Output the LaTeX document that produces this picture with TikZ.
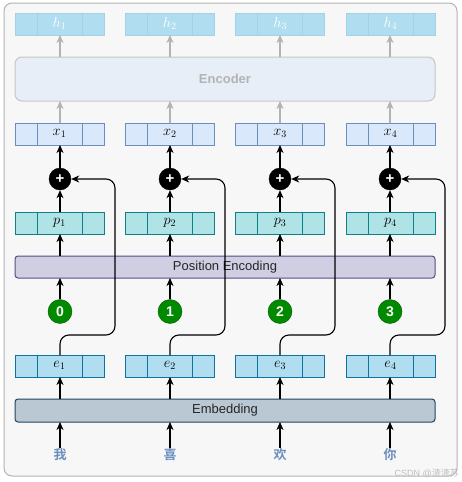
\documentclass[tikz,border=0pt]{standalone}
\usepackage{fontspec}
\setmainfont{Liberation Sans}
\newfontfamily\cjk{Noto Sans CJK SC}[BoldFont={Noto Sans CJK SC Bold}]
\usetikzlibrary{arrows.meta,calc}
\definecolor{bgc}{HTML}{F7F7F7}
\definecolor{bgb}{HTML}{B3B3B3}
\definecolor{xf}{HTML}{DAE8FC}
\definecolor{xd}{HTML}{6C8EBF}
\definecolor{pf}{HTML}{B0E3E6}
\definecolor{pd}{HTML}{0E8088}
\definecolor{ef}{HTML}{B1DDF0}
\definecolor{ed}{HTML}{10739E}
\definecolor{hd}{HTML}{A2D2E8}
\definecolor{encf}{HTML}{E8EEF7}
\definecolor{encd}{HTML}{C6C6C6}
\definecolor{pef}{HTML}{D0CEE2}
\definecolor{ped}{HTML}{56517E}
\definecolor{embf}{HTML}{BAC8D3}
\definecolor{embd}{HTML}{23445D}
\definecolor{gf}{HTML}{008A00}
\definecolor{gd}{HTML}{005700}
\definecolor{grayarrow}{HTML}{B3B3B3}
\definecolor{chc}{HTML}{6C8EBF}
\tikzset{
  vecbox/.style={draw, line width=1pt, minimum width=89pt, minimum height=22pt, inner sep=0pt},
  bar/.style={draw, line width=1pt, rounded corners=3pt, minimum width=420pt, inner sep=0pt, font=\fontsize{13}{15}\selectfont},
  arr/.style={-{Stealth[length=8pt,width=7pt,inset=2.5pt]}, line width=1.1pt, black},
  garr/.style={-{Stealth[length=8pt,width=7pt,inset=2.5pt]}, line width=1.1pt, grayarrow},
  plusc/.style={circle, fill=black, draw=black, minimum size=22pt, inner sep=0pt, text=white, font=\bfseries\fontsize{15}{15}\selectfont},
  numc/.style={circle, fill=gf, draw=gd, minimum size=24pt, inner sep=0pt, text=white, font=\bfseries\fontsize{14}{15}\selectfont},
  chr/.style={text=chc, font=\cjk\bfseries\fontsize{13}{15}\selectfont, inner sep=1pt},
}
\newcommand{\cellvec}[6]{%
  \node[vecbox, fill=#4, draw=#5] (#1) at (#2,#3) {};
  \draw[#5, line width=1pt] ($(#1.north)+(-22.5,0)$) -- ($(#1.south)+(-22.5,0)$)
                              ($(#1.north)+(22.5,0)$) -- ($(#1.south)+(22.5,0)$);
  \node[font=\fontsize{14}{15}\selectfont] at ($(#1.center)+(0,-0.5)$) {#6};
}
\begin{document}
\begin{tikzpicture}[x=1pt,y=-1pt]
\useasboundingbox (0,0) rectangle (462,482);
\draw[rounded corners=8pt, fill=bgc, draw=bgb, line width=1pt] (4,3) rectangle (457,476);

\node[bar, fill=encf, draw=encd, minimum height=44pt, rounded corners=7pt, text=grayarrow, font=\bfseries\fontsize{13}{15}\selectfont] (enc) at (225,79) {Encoder};
\node[bar, fill=pef, draw=ped, minimum height=22pt, text=black!85] (pe) at (225,267) {Position Encoding};
\node[bar, fill=embf, draw=embd, minimum height=23pt, text=black!85] (emb) at (225,410.5) {Embedding};

\foreach \i/\cx/\ax/\ch in {1/59.5/60/我, 2/169.8/170/喜, 3/280.2/280/欢, 4/390.5/390/你}{
  \pgfmathtruncatemacro{\n}{\i-1}
  \cellvec{h\i}{\cx}{24}{ef}{hd}{\color{white}$h_{\i}$}
  \cellvec{x\i}{\cx}{134}{xf}{xd}{$x_{\i}$}
  \cellvec{p\i}{\cx}{223}{pf}{pd}{$p_{\i}$}
  \cellvec{e\i}{\cx}{366}{ef}{ed}{$e_{\i}$}
  \node[plusc] (pl\i) at (\ax,179) {+};
  \node[numc] (n\i) at (\ax,311.5) {\n};
  \node[chr] (c\i) at (\ax,455) {\ch};
  \coordinate (k\i) at (\ax+55,335);
  % gray arrows
  \draw[garr] (\ax,123) -- (\ax,101);
  \draw[garr] (\ax,57) -- (\ax,35);
  % black arrows
  \draw[arr] (pl\i.north) -- (\ax,145);
  \draw[arr] (\ax,212) -- (pl\i.south);
  \draw[arr] (\ax,256) -- (\ax,234);
  \draw[arr] (n\i.north) -- (\ax,278);
  \draw[arr] (\ax,399) -- (\ax,377);
  \draw[arr] (c\i.north) -- (\ax,422);
  \draw[arr, rounded corners=9pt] (\ax,355) |- (k\i) |- (pl\i.east);
}
\node[anchor=south east, text=black!25, font=\fontsize{9}{10}\selectfont, inner sep=1pt] (wm) at (460,479) {CSDN @{\cjk 渣渣苏}};
\end{tikzpicture}
\end{document}
